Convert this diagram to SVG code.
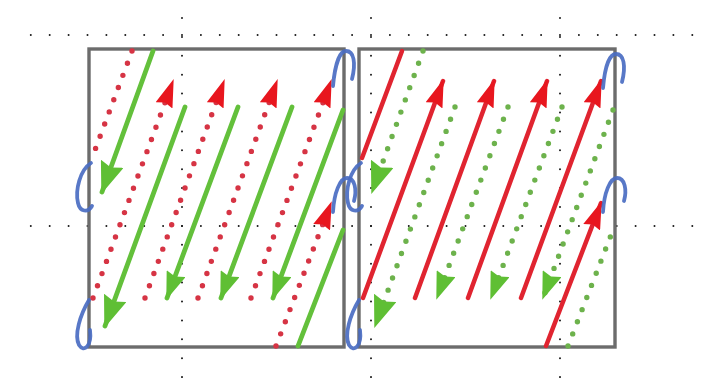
<svg xmlns="http://www.w3.org/2000/svg" width="710" height="378" viewBox="0 0 710 378">
<style>
.grid{stroke:#1a1a1a;stroke-width:2;stroke-linecap:round;stroke-dasharray:0 18.9;fill:none}
.box{fill:none;stroke:#6c6c6c;stroke-width:3.4}
.gs{stroke:#63c03b;stroke-width:4.8;fill:none;stroke-linecap:round}
.gd{stroke:#6db24c;stroke-width:5.4;fill:none;stroke-linecap:round;stroke-dasharray:0 13}
.rs{stroke:#e02430;stroke-width:4.5;fill:none;stroke-linecap:round}
.rd{stroke:#d63444;stroke-width:5.4;fill:none;stroke-linecap:round;stroke-dasharray:0 13}
.loop{stroke:#4a6cc2;stroke-width:3.8;fill:none;stroke-linecap:round;opacity:0.92}
</style>
<defs>
<marker id="ra" viewBox="0 0 28 18" refX="26" refY="9" markerWidth="28" markerHeight="18" markerUnits="userSpaceOnUse" orient="auto"><path d="M0,0 L28,9 L0,18 L3,9 z" fill="#e8161e"/></marker>
<marker id="ga" viewBox="0 0 28 20" refX="26" refY="10" markerWidth="28" markerHeight="20" markerUnits="userSpaceOnUse" orient="auto"><path d="M0,0 L28,10 L0,20 L3,10 z" fill="#5fbf34"/></marker>
<marker id="gb" viewBox="0 0 32 24" refX="30" refY="12" markerWidth="32" markerHeight="24" markerUnits="userSpaceOnUse" orient="auto"><path d="M0,0 L32,12 L0,24 L4,12 z" fill="#5fbf34"/></marker>
</defs>
<rect width="710" height="378" fill="#ffffff"/>
<g id="grid">
<line class="grid" x1="30.8" y1="35" x2="710" y2="35"/>
<line class="grid" x1="30.8" y1="226" x2="710" y2="226"/>
<line class="grid" x1="182" y1="18" x2="182" y2="378"/>
<line class="grid" x1="371" y1="18" x2="371" y2="378"/>
<line class="grid" x1="560" y1="18" x2="560" y2="378"/>
</g>
<g id="left-box"><rect class="box" x="89" y="49" width="255" height="298"/></g>
<g id="right-box"><rect class="box" x="359" y="49" width="256" height="298"/></g>
<g id="connectors">
<!-- left box -->
<line class="rd" x1="132" y1="51" x2="92" y2="158"/>
<line class="rd" x1="93" y1="298" x2="173" y2="81" marker-end="url(#ra)"/>
<line class="rd" x1="145" y1="298" x2="224" y2="81" marker-end="url(#ra)"/>
<line class="rd" x1="198" y1="298" x2="277" y2="81" marker-end="url(#ra)"/>
<line class="rd" x1="251" y1="298" x2="331" y2="81" marker-end="url(#ra)"/>
<line class="rd" x1="276" y1="346" x2="331" y2="203" marker-end="url(#ra)"/>
<line class="gs" x1="153" y1="51" x2="102" y2="192" marker-end="url(#gb)"/>
<line class="gs" x1="185" y1="107" x2="105" y2="326" marker-end="url(#gb)"/>
<line class="gs" x1="238" y1="107" x2="167" y2="298" marker-end="url(#ga)"/>
<line class="gs" x1="292" y1="107" x2="221" y2="298" marker-end="url(#ga)"/>
<line class="gs" x1="343" y1="110" x2="273" y2="298" marker-end="url(#ga)"/>
<line class="gs" x1="298" y1="346" x2="343" y2="230"/>
<!-- right box -->
<line class="rs" x1="402" y1="51" x2="362" y2="158"/>
<line class="rs" x1="363" y1="298" x2="443" y2="81" marker-end="url(#ra)"/>
<line class="rs" x1="415" y1="298" x2="494" y2="81" marker-end="url(#ra)"/>
<line class="rs" x1="468" y1="298" x2="547" y2="81" marker-end="url(#ra)"/>
<line class="rs" x1="521" y1="298" x2="601" y2="81" marker-end="url(#ra)"/>
<line class="rs" x1="546" y1="346" x2="601" y2="203" marker-end="url(#ra)"/>
<line class="gd" x1="423" y1="51" x2="372" y2="192" marker-end="url(#gb)"/>
<line class="gd" x1="455" y1="107" x2="375" y2="326" marker-end="url(#gb)"/>
<line class="gd" x1="508" y1="107" x2="437" y2="298" marker-end="url(#ga)"/>
<line class="gd" x1="562" y1="107" x2="491" y2="298" marker-end="url(#ga)"/>
<line class="gd" x1="613" y1="110" x2="543" y2="298" marker-end="url(#ga)"/>
<line class="gd" x1="568" y1="346" x2="613" y2="230"/>
<!-- wrap loops -->
<path class="loop" d="M333,86 C335,64 340,51 346,51 C354,51 356,63 352,79"/>
<path class="loop" d="M333,212 C334,193 340,178 347,178 C355,178 357,190 354,201"/>
<path class="loop" d="M91,163 C80,170 75,190 78,203 C80,212 88,213 92,206"/>
<path class="loop" d="M89,300 C80,315 74,335 79,345 C84,353 92,346 90,330"/>
<path class="loop" d="M603,88 C605,65 610,54 616,54 C624,54 626,66 622,82"/>
<path class="loop" d="M603,212 C604,193 610,178 617,178 C625,178 627,190 624,201"/>
<path class="loop" d="M361,163 C350,170 345,190 348,203 C350,212 358,213 362,206"/>
<path class="loop" d="M359,300 C350,315 344,335 349,345 C354,353 362,346 360,330"/>
</g>
</svg>
